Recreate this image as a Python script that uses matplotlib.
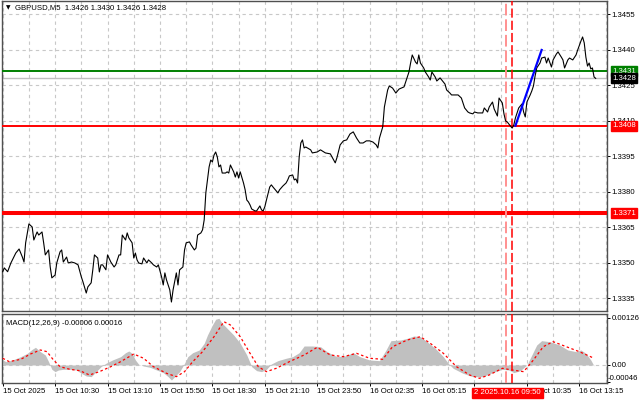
import matplotlib
matplotlib.use('Agg')
import matplotlib.pyplot as plt

plt.rcParams['font.family'] = ['Liberation Sans', 'DejaVu Sans']
FS = 5.6

# ---------------- data ----------------
bars_a = [0, 1, 3, 5, 8, 10, 12, 13, 14, 16, 18, 19, 21, 22, 24, 25, 26, 28, 29, 30,
          32, 33, 35, 36, 37, 39, 40, 42, 44, 46, 48, 49, 51, 52, 54, 55, 56, 58, 59, 60]
vals_a = [1.33463, 1.33479, 1.33463, 1.33500, 1.33542, 1.33559, 1.33525, 1.33504, 1.33585, 1.33665,
          1.33652, 1.33597, 1.33631, 1.33618, 1.33631, 1.33585, 1.33534, 1.33555, 1.33483, 1.33437,
          1.33449, 1.33500, 1.33547, 1.33555, 1.33504, 1.33525, 1.33500, 1.33504, 1.33500, 1.33492,
          1.33441, 1.33420, 1.33373, 1.33399, 1.33416, 1.33471, 1.33534, 1.33521, 1.33462, 1.33492]

bars_b = [61, 63, 64, 66, 68, 69, 71, 72, 73, 75, 76, 77, 79, 80, 81, 82, 83, 85, 86, 88,
          89, 91, 92, 94, 95, 97, 98, 99, 100, 102, 103, 104, 106, 107, 108, 110, 111, 112, 114, 115,
          117, 118, 119, 121, 122]
vals_b = [1.33492, 1.33471, 1.33534, 1.33504, 1.33483, 1.33492, 1.33534, 1.33534, 1.33618, 1.33597,
          1.33627, 1.33606, 1.33585, 1.33521, 1.33542, 1.33513, 1.33500, 1.33496, 1.33521, 1.33500,
          1.33513, 1.33500, 1.33492, 1.33483, 1.33492, 1.33441, 1.33407, 1.33458, 1.33428, 1.33386,
          1.33335, 1.33386, 1.33458, 1.33407, 1.33471, 1.33483, 1.33555, 1.33585, 1.33589, 1.33576,
          1.33555, 1.33563, 1.33618, 1.33627, 1.33640]

bars_c = [123, 124, 126, 127, 128, 129, 130, 131, 132, 133, 134, 136, 137, 138, 139, 141, 142, 143, 144, 145,
          147, 148, 149, 150, 151, 152, 154, 155, 157, 158, 159, 160, 161, 163, 164, 165, 167, 168, 169, 171,
          173, 174, 175, 177, 178, 179, 180, 181, 182, 183, 184, 185, 188, 189, 192, 194, 197, 200]
vals_c = [1.33682, 1.33796, 1.33906, 1.33935, 1.33927, 1.33956, 1.33969, 1.33948, 1.33906, 1.33914,
          1.33880, 1.33880, 1.33885, 1.33880, 1.33914, 1.33885, 1.33863, 1.33885, 1.33859, 1.33885,
          1.33838, 1.33809, 1.33766, 1.33758, 1.33745, 1.33728, 1.33720, 1.33720, 1.33741, 1.33724,
          1.33720, 1.33737, 1.33766, 1.33821, 1.33830, 1.33821, 1.33804, 1.33796, 1.33809, 1.33825,
          1.33838, 1.33851, 1.33868, 1.33872, 1.33851, 1.33855, 1.33838, 1.33948, 1.34007, 1.34020,
          1.33986, 1.33990, 1.33978, 1.33965, 1.33969, 1.33978, 1.33965, 1.33961]

bars_d = [203, 204, 206, 208, 210, 212, 214, 216, 218, 220, 222, 224, 226, 228, 229, 230, 232, 233, 235, 236,
          238, 240, 241, 242, 245, 246, 248, 249, 250, 252, 253, 254, 255, 257, 258, 260, 261, 262, 264, 265,
          267, 269, 270, 271, 273, 274, 276, 278, 280, 281, 282, 284, 285, 287, 288, 290, 291, 293, 294, 296,
          297, 299, 300, 302, 303, 305, 306]
vals_d = [1.33923, 1.33944, 1.33999, 1.34016, 1.34020, 1.34045, 1.34054, 1.34028, 1.34007, 1.34007,
          1.34016, 1.34016, 1.34011, 1.33999, 1.33986, 1.34028, 1.34075, 1.34159, 1.34231, 1.34248,
          1.34239, 1.34218, 1.34227, 1.34235, 1.34244, 1.34265, 1.34307, 1.34345, 1.34379, 1.34349,
          1.34341, 1.34379, 1.34345, 1.34324, 1.34307, 1.34286, 1.34273, 1.34307, 1.34286, 1.34269,
          1.34282, 1.34265, 1.34256, 1.34231, 1.34218, 1.34210, 1.34210, 1.34210, 1.34197, 1.34176,
          1.34155, 1.34138, 1.34134, 1.34130, 1.34138, 1.34134, 1.34134, 1.34134, 1.34155, 1.34138,
          1.34159, 1.34180, 1.34151, 1.34121, 1.34197, 1.34176, 1.34130]

bars_e = [307, 308, 309, 311, 312, 313, 315, 317, 318, 319, 320, 322, 323, 324, 325, 326, 328, 329, 331, 332,
          333, 335, 336, 338, 339, 341, 342, 343, 345, 346, 348, 350, 351, 353, 354, 355, 356, 357, 358, 359,
          360, 361, 362]
vals_e = [1.34100, 1.34096, 1.34087, 1.34070, 1.34083, 1.34113, 1.34155, 1.34172, 1.34138, 1.34117,
          1.34180, 1.34210, 1.34227, 1.34248, 1.34290, 1.34324, 1.34345, 1.34366, 1.34370, 1.34345,
          1.34366, 1.34328, 1.34358, 1.34383, 1.34392, 1.34370, 1.34358, 1.34324, 1.34358, 1.34366,
          1.34358, 1.34379, 1.34400, 1.34438, 1.34455, 1.34430, 1.34370, 1.34332, 1.34345, 1.34320,
          1.34324, 1.34286, 1.34280]

hist_bar = [0, 2, 6, 11, 15, 18, 20, 23, 26, 28, 30, 32, 34, 37, 41, 45, 48, 51, 54, 57,
            60, 63, 67, 72, 75, 77, 79, 81, 83, 86, 90, 94, 98, 101, 103, 105, 108, 111, 113, 116,
            120, 123, 125, 128, 130, 132, 134, 137, 141, 145, 149, 152, 155, 158, 161, 164, 168, 173, 177, 181,
            184, 189, 194, 198, 204, 209, 214, 218, 224, 230, 234, 237, 243, 247, 251, 255, 259, 264, 269, 272,
            275, 281, 287, 293, 299, 305, 309, 312, 316, 320, 323, 326, 329, 334, 340, 345, 350, 353, 356, 359,
            361]
hist_val = [0.000134, 0.000089, 0.000134, 0.000223, 0.000313, 0.00042, 0.000474, 0.000357, 0.000268, 0.000089,
            -0.000116, -0.000179, -0.000134, -0.000116, -0.000116, -0.000134, -0.000223, -0.000295, -0.000313, -0.000179,
            -0.000045, 0.000045, 0.000134, 0.000223, 0.00033, 0.000375, 0.000313, 0.000134, 0.00002, -0.000027,
            -0.000063, -0.000134, -0.000205, -0.000313, -0.000402, -0.000313, -0.000179, 0.000045, 0.000223, 0.00033,
            0.000402, 0.000581, 0.000804, 0.001072, 0.001225, 0.001251, 0.001117, 0.000983, 0.000804, 0.000581,
            0.000268, -0.000045, -0.000152, -0.000179, -0.000116, 0.000027, 0.000116, 0.00018, 0.000223, 0.00033,
            0.000509, 0.000509, 0.000491, 0.000357, 0.000223, 0.000241, 0.00033, 0.000223, 0.000134, 0.000116,
            0.000402, 0.000652, 0.00067, 0.000715, 0.000777, 0.000759, 0.000625, 0.000447, 0.000223, 0.000045,
            -0.000089, -0.000223, -0.000313, -0.000313, -0.000205, -0.000116, -0.000134, -0.000205, -0.000152, 0.0,
            0.000268, 0.000536, 0.000652, 0.000625, 0.000536, 0.000402, 0.000357, 0.000402, 0.000313, 0.000134,
            -0.000027]

sig_bar = [0, 4, 11, 17, 23, 27, 31, 35, 41, 47, 53, 59, 66, 72, 80, 86, 92, 100, 106, 111,
           116, 122, 129, 135, 139, 145, 151, 156, 161, 167, 175, 184, 192, 200, 208, 216, 224, 232, 238, 247,
           255, 261, 269, 277, 285, 291, 297, 305, 311, 318, 324, 330, 336, 344, 352, 361]
sig_val = [0.00018, 0.000089, 0.000152, 0.000295, 0.000402, 0.000357, 0.000134, -0.000045, -0.000116, -0.000152,
           -0.000268, -0.000179, -0.000045, 0.000089, 0.000295, 0.00018, -0.000045, -0.000223, -0.000313, -0.000179,
           0.000089, 0.000357, 0.000759, 0.001161, 0.001072, 0.000759, 0.000313, -0.000045, -0.000179, -0.000089,
           0.000089, 0.000268, 0.000474, 0.000268, 0.000223, 0.000313, 0.00018, 0.000152, 0.000491, 0.00067,
           0.000759, 0.000581, 0.000313, -0.000045, -0.000268, -0.000357, -0.000268, -0.000089, -0.000134, -0.000179,
           0.000134, 0.000491, 0.000625, 0.000491, 0.000357, 0.00018]

x_label_bars = [0, 32, 64, 96, 128, 160, 192, 224, 256, 288, 320, 352]
x_labels = ['15 Oct 2025', '15 Oct 10:30', '15 Oct 13:10', '15 Oct 15:50', '15 Oct 18:30',
            '15 Oct 21:10', '15 Oct 23:50', '16 Oct 02:35', '16 Oct 05:15', '16 Oct 07:55',
            '16 Oct 10:35', '16 Oct 13:15']
price_ticks = [1.3335, 1.3350, 1.3365, 1.3380, 1.3395, 1.3410, 1.3425, 1.3440, 1.3455]
macd_ticks = [-0.00046, 0.0, 0.00126]
macd_tick_labels = ['-0.00046', '0.00', '0.00126']

level_green = 1.3431
level_bid = 1.3428
level_red1 = 1.3408
level_red2 = 1.3371
vline_pink = 307
vline_red = 311
trend_bars = [313, 329]
trend_vals = [1.3408, 1.3440]
title_text = 'GBPUSD,M5  1.3426 1.3430 1.3426 1.3428'
macd_text = 'MACD(12,26,9) -0.00006 0.00016'
cursor_text = '2 2025.10.16 09:50'
cursor_bar = 287.7

price_bar = bars_a + bars_b + bars_c + bars_d + bars_e
price_val = vals_a + vals_b + vals_c + vals_d + vals_e

# ---------------- figure ----------------
fig = plt.figure(figsize=(6.4, 4.01), dpi=100)
fig.patch.set_facecolor('white')
ax = fig.add_axes([2 / 640, 1 - 311 / 401, 605 / 640, 310 / 401])
axm = fig.add_axes([2 / 640, 1 - 383 / 401, 605 / 640, 69 / 401])

XL = (-0.43, 368.9)
grid_kw = dict(color='#C8C8C8', lw=0.8, ls=(0, (3, 3)), zorder=0.5)

for a in (ax, axm):
    a.set_xlim(*XL)
    for b in range(0, 369, 16):
        a.axvline(b, **grid_kw)
    for s in a.spines.values():
        s.set_color('#505050')
        s.set_linewidth(1.0)
    a.yaxis.tick_right()
    a.tick_params(axis='y', which='both', direction='out', length=2.2, width=0.7,
                  pad=1.2, labelsize=FS, colors='black', left=False)

# main pane
ax.set_ylim(1.33297, 1.34607)
for p in price_ticks:
    ax.axhline(p, **grid_kw)
ax.set_yticks(price_ticks)
ax.set_yticklabels(['%.4f' % p for p in price_ticks])
ax.set_xticks([])

ax.axhline(level_bid, color='#C0C0C0', lw=1.0, zorder=2)
ax.axhline(level_green, color='#008000', lw=1.4, zorder=3)
ax.axhline(level_red1, color='#FF0000', lw=1.4, zorder=3)
ax.axhline(level_red2, color='#FF0000', lw=2.9, zorder=3)

for a in (ax, axm):
    a.axvline(vline_pink, color='#FF9090', lw=1.4, ls=(0, (6, 2)), zorder=3)
    a.axvline(vline_red, color='#FF0000', lw=1.1, ls=(0, (6, 2)), zorder=3)

ax.plot(price_bar, price_val, color='black', lw=0.8, zorder=4)
ax.plot(trend_bars, trend_vals, color='#0000FF', lw=1.6, zorder=5)

# right side price boxes
for val, fc in [(level_green, '#008000'), (level_bid, '#000000'),
                (level_red1, '#FF0000'), (level_red2, '#FF0000')]:
    ax.annotate('%.4f' % val, xy=(1.0, val), xycoords=('axes fraction', 'data'),
                xytext=(5, 0), textcoords='offset pixels', ha='left', va='center',
                fontsize=FS, color='white', annotation_clip=False, zorder=10,
                bbox=dict(boxstyle='square,pad=0.18', fc=fc, ec=fc))

ax.text(0.006, 0.978, '\u25BC', transform=ax.transAxes, fontsize=4.2, ha='left',
        va='center', family=['DejaVu Sans'])
ax.text(0.022, 0.978, title_text, transform=ax.transAxes, fontsize=FS, ha='left', va='center')

# MACD pane
axm.set_ylim(-0.000483, 0.001367)
axm.axhline(0, **grid_kw)
axm.fill_between(hist_bar, 0, hist_val, color='#C0C0C0', lw=0, zorder=2)
axm.plot(sig_bar, sig_val, color='#FF0000', lw=0.9, ls=(0, (2, 2)), zorder=4)
axm.set_yticks(macd_ticks)
axm.set_yticklabels([lab if lab != '-0.00046' else '' for lab in macd_tick_labels])
axm.annotate('-0.00046', xy=(1.0, -0.00046), xycoords=('axes fraction', 'data'),
             xytext=(1, 0), textcoords='offset pixels', ha='left', va='bottom',
             fontsize=FS, color='black', annotation_clip=False)
axm.text(0.007, 0.86, macd_text, transform=axm.transAxes, fontsize=FS, ha='left', va='center')

axm.set_xticks(x_label_bars)
axm.set_xticklabels(x_labels)
axm.tick_params(axis='x', direction='out', length=2.2, width=0.7, pad=1.5,
                labelsize=FS, colors='black')
for t in axm.get_xticklabels():
    t.set_ha('left')

axm.annotate(cursor_text, xy=(cursor_bar, 0), xycoords=('data', 'axes fraction'),
             xytext=(0, -10), textcoords='offset pixels', ha='left', va='center',
             fontsize=FS, color='white', annotation_clip=False, zorder=10,
             bbox=dict(boxstyle='square,pad=0.25', fc='#FF0000', ec='#FF0000'))

fig.savefig('out.png', dpi=100, facecolor='white')
